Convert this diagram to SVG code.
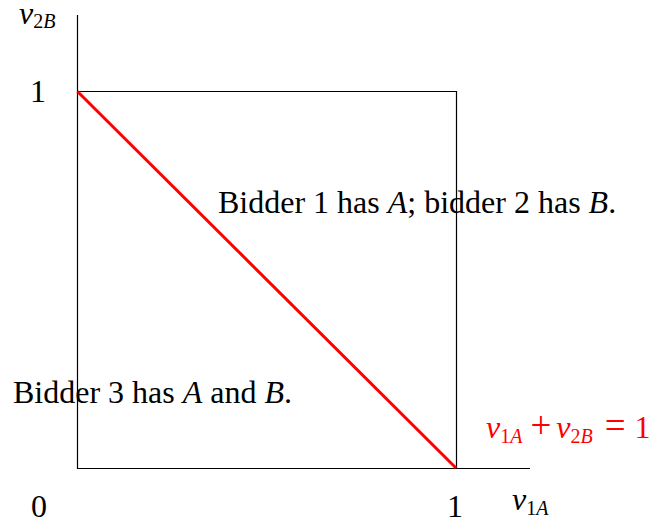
<svg xmlns="http://www.w3.org/2000/svg" width="650" height="524" viewBox="0 0 650 524">
<style>
text{font-family:"Liberation Serif","Times New Roman",serif;font-size:32px;fill:#000}
.i{font-style:italic}
.s{font-size:20px;font-style:normal}
.op{font-size:37px}
.red{fill:#ff0000}
.ax{stroke:#000;stroke-width:1.2;fill:none}
</style>
<g id="axes">
<line class="ax" x1="77.5" y1="15" x2="77.5" y2="469"/>
<line class="ax" x1="77" y1="468.5" x2="530" y2="468.5"/>
<path class="ax" d="M77.5 91.5 H456.5 V468.5"/>
</g>
<g id="connectors">
<line x1="77.5" y1="91.5" x2="456" y2="468" stroke="#ff0000" stroke-width="3"/>
</g>
<g id="labels">
<text x="19" y="24" class="i">v<tspan class="s" dy="4">2</tspan><tspan class="s i" style="font-style:italic">B</tspan></text>
<text x="30" y="102">1</text>
<text x="31" y="517">0</text>
<text x="447" y="517">1</text>
<text x="512" y="510" class="i">v<tspan class="s" dy="5">1</tspan><tspan class="s" style="font-style:italic">A</tspan></text>
<text x="218" y="213">Bidder 1 has <tspan class="i">A</tspan>; bidder 2 has <tspan class="i">B</tspan>.</text>
<text x="13" y="403">Bidder 3 has <tspan class="i">A</tspan> and <tspan class="i">B</tspan>.</text>
<text x="486" y="438" class="red"><tspan class="i">v</tspan><tspan class="s" dy="5">1</tspan><tspan class="s" style="font-style:italic">A</tspan><tspan class="op" dy="-5" dx="8">+</tspan><tspan class="i" dx="5">v</tspan><tspan class="s" dy="5">2</tspan><tspan class="s" style="font-style:italic">B</tspan><tspan class="op" dy="-5" dx="12">=</tspan><tspan dx="9">1</tspan></text>
</g>
</svg>
